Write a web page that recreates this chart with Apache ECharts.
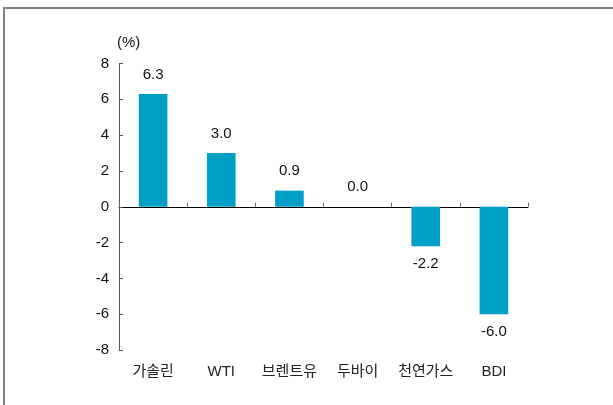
<!DOCTYPE html>
<html>
<head>
<meta charset="utf-8">
<script src="https://cdn.jsdelivr.net/npm/echarts@6/dist/echarts.min.js"></script>
<style>
html,body{margin:0;padding:0;background:#fff;}
#c{width:613px;height:405px;}
</style>
</head>
<body>
<div id="c"></div>
<script>
const categories = ['가솔린', 'WTI', '브렌트유', '두바이', '천연가스', 'BDI'];
const values = [6.3, 3.0, 0.9, 0.0, -2.2, -6.0];
const yMin = -8, yMax = 8, yStep = 2;
const unitLabel = '(%)';

const FONT = '"Liberation Sans", Arial, "Noto Sans CJK KR", sans-serif';
const chart = echarts.init(document.getElementById('c'), null, {renderer: 'canvas'});

const barData = values.map(v => ({
  value: v,
  label: v < 0 ? {position: 'bottom', distance: 10} : {position: 'top', distance: 12}
}));

chart.setOption({
  animation: false,
  backgroundColor: '#fff',
  textStyle: {fontFamily: FONT},
  grid: {left: 119, right: 85, top: 63.5, bottom: 55, containLabel: false},
  xAxis: [
    {
      type: 'category', data: categories, position: 'bottom',
      axisLine: {onZero: true, lineStyle: {color: '#000', width: 1}},
      axisTick: {show: true, inside: true, length: 4, alignWithLabel: false, interval: 0, lineStyle: {color: '#666'}},
      axisLabel: {show: false},
      splitLine: {show: false}
    },
    {
      type: 'category', data: categories, position: 'bottom',
      axisLine: {show: false, onZero: false},
      axisTick: {show: false},
      axisLabel: {show: true, interval: 0, margin: 14, fontSize: 15, color: '#222', fontFamily: FONT},
      splitLine: {show: false}
    }
  ],
  yAxis: {
    type: 'value', min: yMin, max: yMax, interval: yStep,
    axisLine: {show: true, lineStyle: {color: '#555', width: 1}},
    axisTick: {show: true, inside: true, length: 4, lineStyle: {color: '#555'}},
    axisLabel: {fontSize: 15, color: '#111', margin: 10, fontFamily: FONT},
    splitLine: {show: false}
  },
  series: [{
    type: 'bar', xAxisIndex: 0, data: barData,
    barWidth: '42%',
    itemStyle: {color: '#00a0c6'},
    label: {show: true, fontSize: 15, color: '#111', fontFamily: FONT,
      formatter: p => p.value.toFixed(1)}
  }],
  graphic: [
    {type: 'rect', shape: {x: 4, y: 8, width: 800, height: 600},
      style: {fill: 'none', stroke: '#808080', lineWidth: 2}, silent: true},
    {type: 'text', left: 117, top: 35,
      style: {text: unitLabel, font: '15px ' + FONT, fill: '#111'}}
  ]
});
</script>
</body>
</html>
